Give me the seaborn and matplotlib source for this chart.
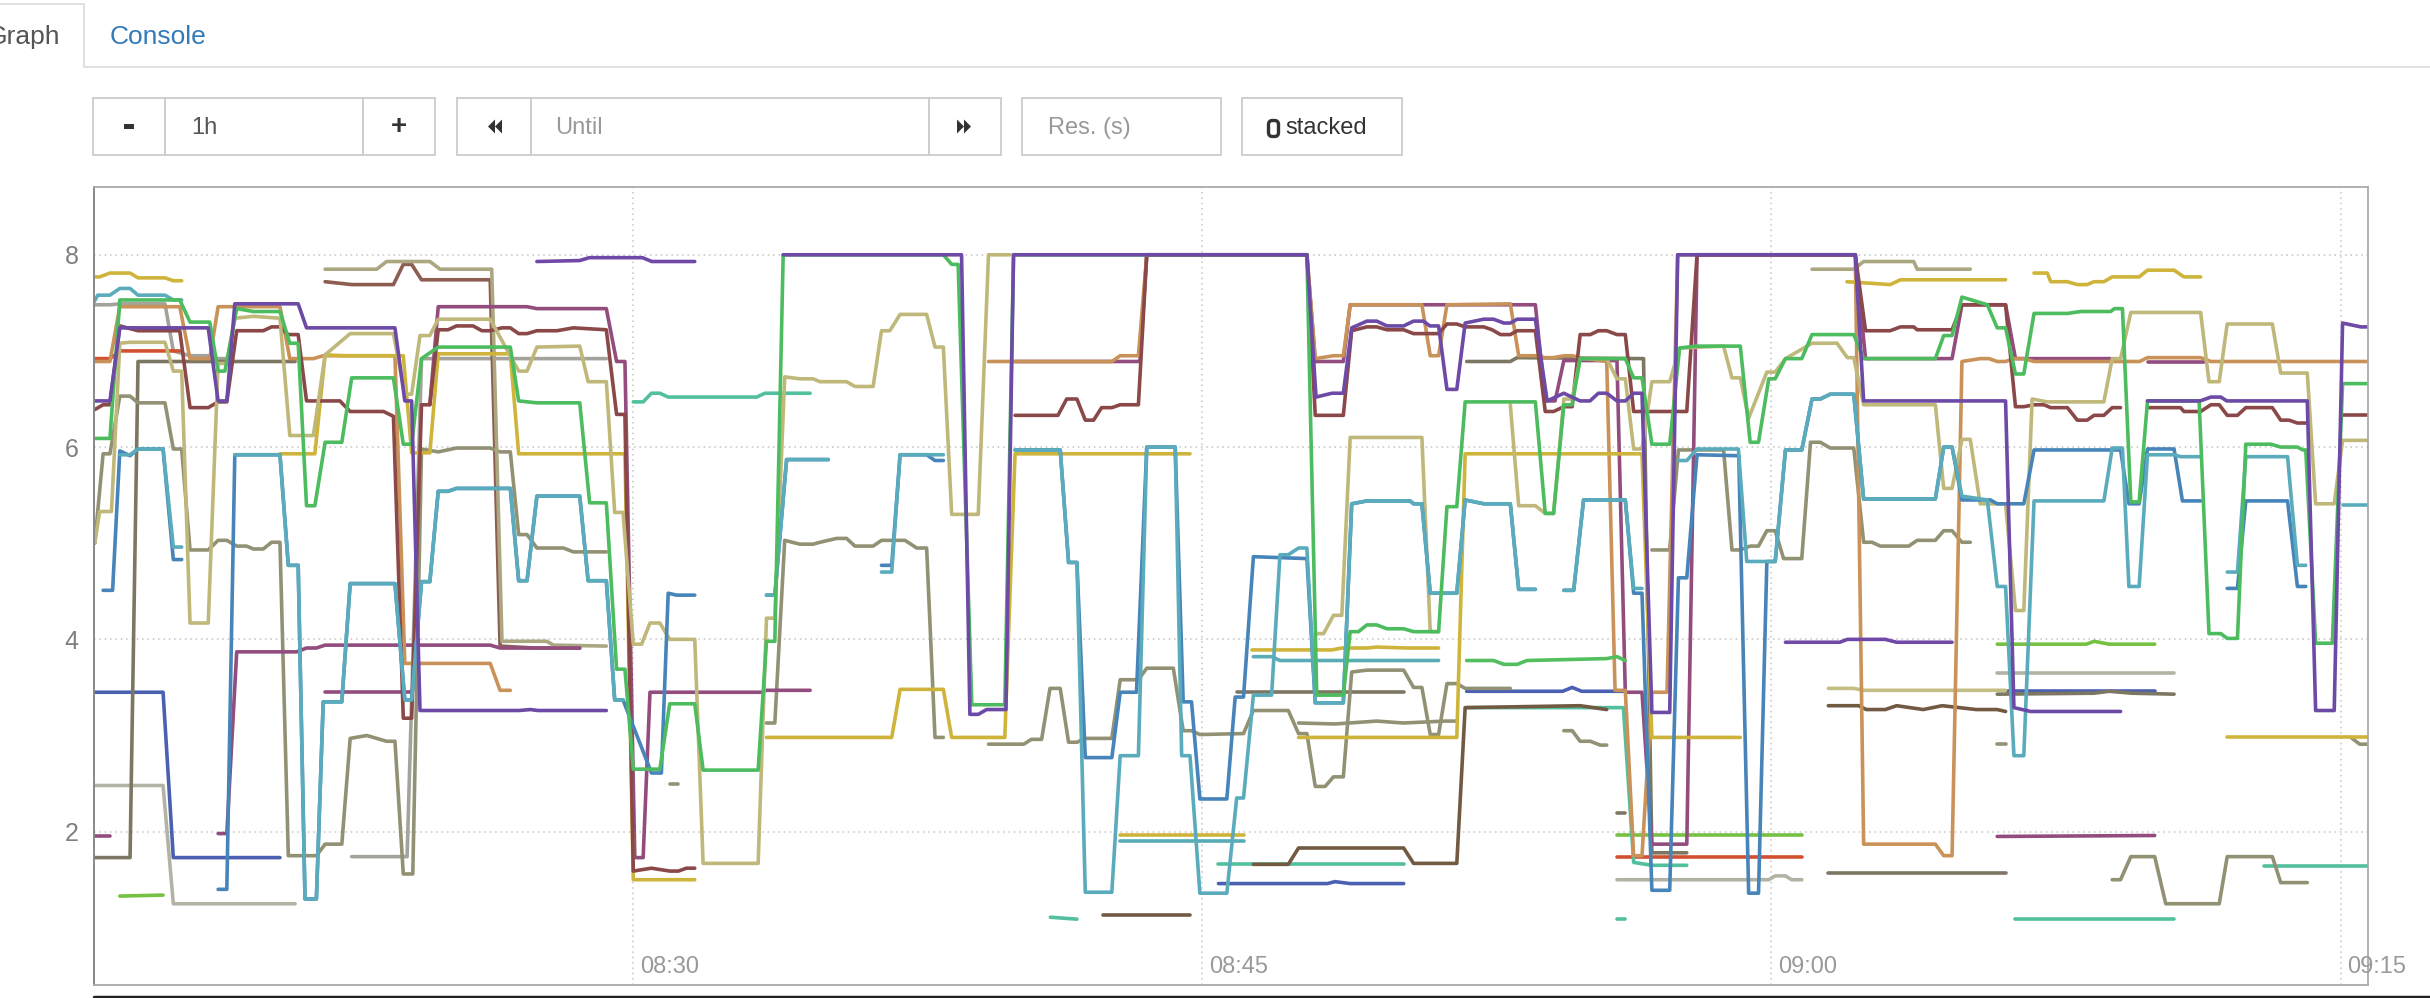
import numpy as np
import pandas as pd
import matplotlib
matplotlib.use("Agg")
import matplotlib.pyplot as plt
import matplotlib.transforms as mtransforms
from matplotlib.patches import Rectangle, Polygon, FancyBboxPatch
import seaborn as sns

# time in minutes after 08:00, None = gap in the series
x_range = [15.8, 75.72]
y_range = [0.405, 8.705]
x_ticks = [30, 45, 60, 75]
x_labels = ["08:30", "08:45", "09:00", "09:15"]
y_ticks = [2, 4, 6, 8]
y_labels = ["2", "4", "6", "8"]

gray_top = [(15.8, 7.48), (16.22, 7.48), (16.48, 7.49), (17.67, 7.49), (17.89, 7.0), (18.33, 6.95), (18.81, 6.95),
            (19.07, 6.92), (19.3, 6.92), None,
            (22.59, 1.74), (24.05, 1.74), (24.43, 6.92), (29.3, 6.92)]

light_gray = [(15.8, 2.48), (17.62, 2.48), (17.89, 1.25), (21.1, 1.25), None,
              (55.93, 1.50), (59.93, 1.50), (60.1, 1.54), (60.37, 1.54), (60.53, 1.50), (60.8, 1.50), None,
              (65.95, 3.65), (70.61, 3.65)]

lime = [(16.48, 1.33), (17.62, 1.34), None,
        (55.93, 1.96), (60.8, 1.96), None,
        (65.95, 3.95), (68.3, 3.95), (68.5, 3.98), (68.9, 3.95), (70.1, 3.95)]

red = [(15.8, 6.92), (16.22, 6.92), (16.5, 7.0), (18.06, 7.0), None,
       (55.93, 1.74), (60.8, 1.74)]

navy = [(15.8, 3.45), (17.62, 3.45), (17.89, 1.73), (20.7, 1.73), None,
        (45.43, 1.46), (48.3, 1.46), (48.5, 1.48), (48.9, 1.46), (50.31, 1.46), None,
        (51.97, 3.46), (54.5, 3.46), (54.75, 3.50), (55.0, 3.46), (56.1, 3.46), None,
        (66.22, 3.46), (70.1, 3.46)]

mint = [(30.01, 6.47), (30.27, 6.47), (30.49, 6.56), (30.71, 6.56), (30.93, 6.52), (33.26, 6.52), (33.48, 6.56),
        (34.67, 6.56), None,
        (41.0, 1.11), (41.7, 1.09), None,
        (45.43, 1.66), (50.31, 1.66), None,
        (51.97, 3.29), (54.96, 3.29), (56.1, 3.29), (56.37, 1.68), (56.85, 1.65), (57.77, 1.65), None,
        (55.93, 1.09), (56.15, 1.09), None,
        (66.43, 1.09), (70.61, 1.09), None,
        (72.98, 1.64), (75.72, 1.64)]

brown = [(42.4, 1.13), (44.68, 1.13), None,
         (46.35, 1.66), (47.27, 1.66), (47.54, 1.83), (50.31, 1.83), (50.57, 1.67), (51.71, 1.67), (51.93, 3.29),
         (54.96, 3.31), (55.66, 3.27), None,
         (61.5, 3.31), (62.3, 3.31), (62.5, 3.27), (63.0, 3.27), (63.3, 3.31), (64.0, 3.27), (64.5, 3.31),
         (65.4, 3.27), (65.95, 3.27), (66.17, 3.25)]

brown_top = [(21.89, 7.72), (22.59, 7.69), (23.69, 7.69), (23.95, 7.90), (24.17, 7.90), (24.43, 7.74), (26.24, 7.74),
             (26.5, 3.93), (27.4, 3.91), (28.6, 3.91)]

olive_dark = [(15.8, 1.73), (16.75, 1.73), (16.96, 6.89), (21.1, 6.89), None,
              (45.91, 3.45), (50.31, 3.45), None,
              (51.97, 6.89), (53.12, 6.89), (53.3, 6.93), (56.63, 6.92), (56.85, 1.78), (57.77, 1.78), None,
              (55.93, 2.19), (56.15, 2.19), None,
              (61.5, 1.57), (66.17, 1.57), None,
              (65.95, 3.43), (68.5, 3.44), (68.9, 3.46), (69.5, 3.44), (70.61, 3.43)]

olive = [(15.82, 5.0), (16.04, 5.93), (16.22, 5.93), (16.48, 6.53), (16.75, 6.53), (16.96, 6.46), (17.67, 6.46),
         (17.89, 5.98), (18.11, 5.98), (18.33, 4.93), (18.81, 4.93), (19.07, 5.03), (19.3, 5.03), (19.56, 4.97),
         (19.82, 4.97), (20.0, 4.94), (20.26, 4.94), (20.48, 5.01), (20.7, 5.01), (20.92, 1.75), (21.66, 1.75),
         (21.89, 1.87), (22.33, 1.87), (22.55, 2.97), (22.99, 3.0), (23.51, 2.94), (23.73, 2.94), (23.95, 1.56),
         (24.2, 1.56), (24.43, 5.98), (24.87, 5.95), (25.35, 5.99), (26.24, 5.99), (26.5, 5.95), (26.77, 5.95),
         (26.99, 5.09), (27.21, 5.09), (27.47, 4.95), (28.17, 4.95), (28.43, 4.91), (29.3, 4.91), None,
         (30.97, 2.5), (31.2, 2.5), None,
         (33.52, 3.13), (33.74, 3.13), (34.0, 5.03), (34.4, 4.99), (34.75, 4.99), (34.93, 5.01), (35.37, 5.05),
         (35.63, 5.05), (35.85, 4.97), (36.33, 4.97), (36.55, 5.03), (37.17, 5.03), (37.48, 4.95), (37.74, 4.95),
         (37.96, 2.98), (38.18, 2.98), None,
         (39.37, 2.91), (40.3, 2.91), (40.5, 2.96), (40.77, 2.96), (40.99, 3.49), (41.26, 3.49), (41.48, 2.93),
         (41.7, 2.93), (41.92, 2.97), (42.62, 2.97), (42.84, 3.58), (43.32, 3.58), (43.54, 3.70), (44.24, 3.70),
         (44.5, 3.05), (44.72, 3.05), (44.94, 3.01), (46.09, 3.02), (46.35, 3.26), (47.27, 3.26), (47.54, 3.02),
         (47.76, 3.02), (47.98, 2.47), (48.24, 2.47), (48.46, 2.57), (48.72, 2.57), (48.94, 3.66), (49.34, 3.68),
         (50.31, 3.68), (50.57, 3.50), (50.79, 3.50), (51.01, 3.01), (51.23, 3.01), (51.45, 3.54), (51.71, 3.54),
         (51.93, 3.49), (53.12, 3.49), None,
         (47.54, 3.13), (48.5, 3.12), (49.6, 3.15), (50.3, 3.13), (51.4, 3.15), (51.71, 3.15), None,
         (54.53, 3.05), (54.75, 3.05), (54.96, 2.94), (55.23, 2.94), (55.49, 2.90), (55.66, 2.90), None,
         (56.85, 4.93), (57.32, 4.93), (57.55, 5.97), (58.74, 5.97), (58.96, 4.93), (59.18, 4.93), (59.44, 4.97),
         (59.66, 4.97), (59.88, 5.13), (60.1, 5.13), (60.32, 4.84), (60.8, 4.84), (61.03, 6.05), (61.29, 6.05),
         (61.55, 5.99), (62.17, 5.99), (62.43, 5.01), (62.65, 5.01), (62.87, 4.97), (63.62, 4.97), (63.84, 5.03),
         (64.32, 5.03), (64.54, 5.13), (64.76, 5.13), (65.02, 5.01), (65.24, 5.01), None,
         (65.95, 2.91), (66.17, 2.91), None,
         (68.98, 1.50), (69.2, 1.50), (69.47, 1.74), (70.1, 1.74), (70.39, 1.25), (71.8, 1.25), (72.01, 1.74),
         (73.2, 1.74), (73.42, 1.47), (74.12, 1.47), None,
         (75.27, 2.98), (75.5, 2.91), (75.72, 2.91)]

khaki_gray = [(21.89, 7.85), (23.25, 7.85), (23.51, 7.93), (24.65, 7.93), (24.92, 7.85), (26.28, 7.85), (26.55, 3.98),
              (27.73, 3.98), (27.91, 3.94), (29.3, 3.93), None,
              (61.07, 7.85), (62.17, 7.85), (62.43, 7.93), (63.75, 7.93), (63.84, 7.85), (65.24, 7.85)]

khaki_low = [(61.5, 3.49), (62.17, 3.49), (62.43, 3.47), (66.17, 3.47)]

plum = [(15.8, 1.95), (16.22, 1.95), None,
        (19.07, 1.98), (19.3, 1.98), (19.56, 3.87), (21.14, 3.87), (21.4, 3.91), (21.66, 3.91), (21.89, 3.94),
        (26.24, 3.94), (26.5, 3.91), (28.6, 3.91), None,
        (21.89, 3.45), (24.17, 3.45), None,
        (24.65, 6.44), (24.87, 7.46), (27.21, 7.46), (27.47, 7.44), (29.3, 7.44), (29.57, 6.89), (29.79, 6.89),
        (30.05, 1.73), (30.27, 1.73), (30.45, 3.45), (33.4, 3.45), (33.52, 3.47), (34.67, 3.47), None,
        (40.07, 6.89), (43.36, 6.89), (43.54, 8.0), (47.76, 8.0), (47.98, 6.89), (48.72, 6.89), (48.9, 7.48),
        (53.78, 7.48), (54.04, 6.48), (54.3, 6.48), (54.53, 6.90), (55.93, 6.90), (56.15, 3.45), (56.59, 3.45),
        (56.85, 1.87), (57.77, 1.87), (58.04, 8.0), (62.21, 8.0), (62.48, 6.92), (64.76, 6.92), (65.02, 7.48),
        (66.17, 7.48), (66.43, 6.92), (68.94, 6.92), None,
        (69.91, 6.89), (71.4, 6.89), None,
        (65.95, 1.95), (70.1, 1.96)]

tan = [(15.8, 6.89), (16.22, 6.89), (16.48, 7.46), (18.06, 7.46), (18.33, 6.92), (18.85, 6.92), (19.07, 7.46),
       (20.7, 7.46), (20.96, 6.92), (21.58, 6.92), (21.84, 6.95), (23.73, 6.95), (23.99, 3.75), (26.24, 3.75),
       (26.5, 3.47), (26.77, 3.47), None,
       (39.37, 6.89), (42.62, 6.89), (42.84, 6.95), (43.32, 6.95), (43.54, 8.0), (47.76, 8.0), (47.98, 6.92),
       (48.46, 6.95), (48.72, 6.95), (48.9, 7.48), (50.79, 7.48), (51.01, 6.95), (51.23, 6.95), (51.45, 7.48),
       (53.12, 7.49), (53.34, 6.95), (53.78, 6.95), (54.04, 6.93), (54.26, 6.93), (54.53, 6.95), (54.75, 6.95),
       (54.96, 6.93), (55.66, 6.89), (55.88, 3.47), (56.15, 3.47), (56.37, 1.75), (56.59, 1.75), (56.85, 3.45),
       (57.25, 3.45), (57.53, 8.0), (62.21, 8.0), (62.43, 1.87), (64.32, 1.87), (64.54, 1.75), (64.76, 1.75),
       (65.02, 6.89), (65.5, 6.92), (65.73, 6.92), (65.95, 6.89), (66.17, 6.89), (66.39, 6.92), (66.65, 6.92),
       (66.92, 6.89), (69.7, 6.89), (69.91, 6.93), (71.31, 6.93), (71.58, 6.89), (75.72, 6.89)]

gold = [(15.8, 7.77), (15.95, 7.77), (16.22, 7.81), (16.75, 7.81), (16.96, 7.76), (17.67, 7.76), (17.89, 7.73),
        (18.11, 7.73), None,
        (20.7, 5.93), (21.62, 5.93), (21.89, 6.96), (22.33, 6.95), (23.95, 6.95), (24.17, 5.94), (24.65, 5.94),
        (24.87, 6.97), (26.77, 6.97), (26.99, 5.93), (29.79, 5.93), (30.01, 1.50), (31.63, 1.50), None,
        (33.52, 2.98), (36.82, 2.98), (37.04, 3.48), (38.18, 3.48), (38.4, 2.98), (39.8, 2.98), (40.07, 5.93),
        (44.68, 5.93), None,
        (42.84, 1.96), (46.09, 1.96), None,
        (46.31, 3.89), (48.42, 3.89), (48.68, 3.91), (49.34, 3.91), (49.6, 3.92), (50.4, 3.91), (51.23, 3.91), None,
        (47.54, 2.98), (51.71, 2.98), (51.93, 5.93), (56.59, 5.93), (56.85, 2.98), (59.18, 2.98), None,
        (61.99, 7.72), (63.13, 7.69), (63.4, 7.74), (66.17, 7.74), None,
        (66.92, 7.81), (67.27, 7.81), (67.36, 7.72), (67.8, 7.72), (68.06, 7.69), (68.32, 7.69), (68.5, 7.72),
        (68.76, 7.72), (68.98, 7.77), (69.69, 7.77), (69.91, 7.84), (70.61, 7.84), (70.87, 7.77), (71.31, 7.77), None,
        (72.01, 2.98), (75.72, 2.98)]

maroon = [(15.82, 6.39), (16.04, 6.44), (16.22, 6.44), (16.48, 7.26), (16.96, 7.21), (18.06, 7.21), (18.33, 6.41),
          (18.81, 6.41), (19.07, 6.47), (19.3, 6.47), (19.56, 7.21), (20.26, 7.21), (20.48, 7.25), (20.7, 7.25),
          (20.92, 7.17), (21.18, 7.17), (21.4, 6.48), (22.28, 6.48), (22.55, 6.37), (23.43, 6.37), (23.69, 6.32),
          (23.95, 3.18), (24.17, 3.18), (24.43, 6.44), (24.65, 6.44), (24.87, 7.22), (25.13, 7.22), (25.35, 7.26),
          (25.79, 7.26), (26.02, 7.21), (26.24, 7.21), (26.55, 7.24), (26.77, 7.24), (26.99, 7.18), (27.21, 7.18),
          (27.47, 7.21), (28.0, 7.21), (28.43, 7.24), (29.3, 7.22), (29.57, 6.34), (29.79, 6.34), (30.01, 1.59),
          (30.49, 1.62), (30.97, 1.59), (31.2, 1.59), (31.41, 1.62), (31.63, 1.62), None,
          (40.07, 6.33), (41.2, 6.33), (41.43, 6.50), (41.7, 6.50), (41.92, 6.28), (42.14, 6.28), (42.35, 6.41),
          (42.62, 6.41), (42.84, 6.44), (43.32, 6.44), (43.54, 8.0), (47.76, 8.0), (47.98, 6.33), (48.72, 6.33),
          (48.94, 7.21), (49.34, 7.25), (49.6, 7.25), (49.87, 7.22), (50.31, 7.22), (50.57, 7.18), (51.23, 7.18),
          (51.45, 7.28), (51.71, 7.28), (51.93, 7.25), (52.42, 7.25), (52.64, 7.22), (52.86, 7.17), (53.12, 7.17),
          (53.3, 7.21), (53.78, 7.21), (54.04, 6.37), (54.26, 6.37), (54.53, 6.42), (54.75, 6.42), (54.96, 7.17),
          (55.23, 7.17), (55.44, 7.21), (55.66, 7.21), (55.93, 7.17), (56.15, 7.17), (56.37, 6.37), (57.77, 6.37),
          (58.04, 8.0), (62.21, 8.0), (62.48, 7.21), (63.13, 7.21), (63.4, 7.25), (63.75, 7.25), (63.84, 7.22),
          (64.76, 7.22), (65.02, 7.48), (66.17, 7.48), (66.43, 6.42), (66.65, 6.42), (66.92, 6.44), (67.18, 6.44),
          (67.36, 6.41), (67.8, 6.41), (68.06, 6.28), (68.32, 6.28), (68.5, 6.33), (68.76, 6.33), (68.98, 6.41),
          (69.2, 6.41), None,
          (69.91, 6.41), (70.78, 6.41), (70.87, 6.37), (71.31, 6.37), (71.58, 6.44), (71.8, 6.44), (72.01, 6.33),
          (72.28, 6.33), (72.5, 6.41), (73.2, 6.41), (73.42, 6.28), (73.64, 6.28), (73.86, 6.25), (74.12, 6.25), None,
          (75.05, 6.33), (75.72, 6.33)]

khaki = [(15.82, 5.0), (15.95, 5.33), (16.26, 5.33), (16.48, 7.08), (16.75, 7.09), (17.67, 7.09), (17.89, 6.79),
         (18.11, 6.79), (18.33, 4.17), (18.81, 4.17), (19.07, 6.87), (19.3, 6.87), (19.51, 7.34), (20.0, 7.36),
         (20.7, 7.34), (20.96, 6.12), (21.58, 6.12), (21.89, 6.96), (22.55, 7.18), (23.69, 7.18), (23.99, 6.55),
         (24.17, 6.55), (24.39, 7.16), (24.65, 7.16), (24.87, 7.33), (26.24, 7.33), (26.99, 6.79), (27.21, 6.79),
         (27.47, 7.04), (28.6, 7.05), (28.82, 6.68), (29.3, 6.68), (29.52, 5.32), (29.74, 5.32), (30.01, 3.95),
         (30.23, 3.95), (30.45, 4.17), (30.71, 4.17), (30.97, 4.0), (31.63, 4.0), (31.85, 1.67), (33.3, 1.67),
         (33.52, 4.22), (33.74, 4.22), (34.0, 6.73), (34.4, 6.71), (34.75, 6.71), (34.93, 6.68), (35.63, 6.68),
         (35.85, 6.63), (36.33, 6.63), (36.55, 7.21), (36.77, 7.21), (37.04, 7.38), (37.74, 7.38), (37.96, 7.04),
         (38.18, 7.04), (38.4, 5.30), (39.1, 5.30), (39.37, 8.0), (39.94, 8.0), None,
         (47.98, 4.06), (48.2, 4.06), (48.46, 4.25), (48.68, 4.25), (48.9, 6.10), (50.79, 6.10), (51.01, 4.08),
         (51.23, 4.08), None,
         (53.12, 6.44), (53.34, 5.39), (53.78, 5.39), (54.04, 5.31), (54.26, 5.31), (54.53, 6.50), (54.75, 6.50),
         (54.96, 6.92), (55.66, 6.92), (55.93, 6.71), (56.15, 6.71), (56.37, 5.98), (56.59, 5.98), (56.85, 6.68),
         (57.32, 6.68), (57.58, 7.03), (58.74, 7.05), (58.96, 6.72), (59.18, 6.72), (59.4, 6.30), (59.88, 6.78),
         (60.1, 6.78), (60.37, 6.92), (61.07, 7.08), (61.73, 7.08), (62.0, 6.93), (62.17, 6.93), (62.43, 6.44),
         (64.32, 6.44), (64.54, 5.57), (64.76, 5.57), (65.02, 6.08), (65.24, 6.08), (65.5, 5.41), (66.17, 5.41),
         (66.43, 4.30), (66.65, 4.30), (66.87, 6.50), (67.27, 6.47), (68.76, 6.47), (68.98, 6.92), (69.2, 6.92),
         (69.47, 7.40), (71.31, 7.40), (71.53, 6.68), (71.8, 6.68), (72.01, 7.28), (73.2, 7.28), (73.42, 6.77),
         (74.12, 6.77), (74.34, 5.41), (74.83, 5.41), (75.05, 6.07), (75.72, 6.07)]

teal_low = [(42.84, 1.90), (46.09, 1.90), None,
            (46.35, 3.82), (46.83, 3.82), (47.05, 3.78), (51.23, 3.78)]

green_low = [(51.97, 3.78), (52.68, 3.78), (52.95, 3.74), (53.3, 3.74), (53.56, 3.78), (55.66, 3.80), (55.93, 3.82),
             (56.15, 3.78)]

blue = [(16.04, 4.51), (16.29, 4.51), (16.48, 5.96), (16.75, 5.91), (16.96, 5.98), (17.62, 5.98), (17.89, 4.83),
        (18.11, 4.83), None,
        (19.07, 1.40), (19.3, 1.40), (19.51, 5.92), (20.7, 5.92), (20.92, 4.77), (21.18, 4.77), (21.36, 1.30),
        (21.66, 1.30), (21.84, 3.35), (22.33, 3.35), (22.55, 4.58), (23.73, 4.58), (23.99, 3.37), (24.17, 3.37),
        (24.43, 4.60), (24.65, 4.60), (24.87, 5.54), (25.13, 5.54), (25.35, 5.57), (26.77, 5.57), (26.99, 4.61),
        (27.21, 4.61), (27.47, 5.49), (28.6, 5.49), (28.82, 4.61), (29.3, 4.61), (29.52, 3.37), (29.74, 3.37),
        (30.49, 2.61), (30.75, 2.61), (30.93, 4.48), (31.15, 4.46), (31.63, 4.46), None,
        (33.52, 4.46), (33.74, 4.46), (34.05, 5.87), (35.15, 5.87), None,
        (36.55, 4.77), (36.82, 4.77), (37.04, 5.92), (37.74, 5.92), (37.96, 5.86), (38.18, 5.86), None,
        (40.07, 5.97), (41.26, 5.97), (41.48, 4.80), (41.7, 4.80), (41.92, 2.77), (42.62, 2.77), (42.84, 3.45),
        (43.27, 3.45), (43.54, 6.0), (44.29, 6.0), (44.5, 3.35), (44.72, 3.35), (44.94, 2.34), (45.65, 2.34),
        (45.87, 3.40), (46.09, 3.40), (46.35, 4.86), (47.76, 4.84), (47.98, 3.34), (48.72, 3.34), (48.94, 5.41),
        (49.34, 5.44), (50.48, 5.44), (50.57, 5.41), (50.79, 5.41), (51.01, 4.48), (51.71, 4.48), (51.93, 5.45),
        (52.42, 5.41), (53.12, 5.41), (53.34, 4.52), (53.78, 4.52), None,
        (54.53, 4.51), (54.79, 4.51), (55.05, 5.45), (56.15, 5.45), (56.37, 4.48), (56.59, 4.48), (56.85, 1.39),
        (57.32, 1.39), (57.55, 4.64), (57.77, 4.64), (58.04, 5.92), (59.14, 5.91), (59.4, 1.36), (59.66, 1.36),
        (59.88, 4.81), (60.1, 4.81), (60.37, 5.97), (60.8, 5.97), (61.07, 6.50), (61.29, 6.50), (61.55, 6.55),
        (62.17, 6.55), (62.43, 5.46), (64.32, 5.46), (64.54, 6.0), (64.76, 6.0), (65.02, 5.45), (65.77, 5.45),
        (65.95, 5.41), (66.65, 5.41), (66.92, 5.97), (69.2, 5.97), (69.42, 5.41), (69.69, 5.41), (69.91, 5.98),
        (70.61, 5.98), (70.83, 5.44), (71.31, 5.44), None,
        (72.01, 4.53), (72.28, 4.53), (72.5, 5.44), (73.6, 5.44), (73.86, 4.55), (74.08, 4.55)]

teal = [(16.48, 5.92), (16.75, 5.92), (16.96, 5.98), (17.62, 5.98), (17.89, 4.96), (18.11, 4.96), None,
        (19.51, 5.92), (20.7, 5.92), (20.92, 4.77), (21.18, 4.77), (21.36, 1.30), (21.66, 1.30), (21.84, 3.35),
        (22.33, 3.35), (22.55, 4.58), (23.73, 4.58), (23.99, 3.37), (24.17, 3.37), (24.43, 4.60), (24.65, 4.60),
        (24.87, 5.54), (25.13, 5.54), (25.35, 5.57), (26.77, 5.57), (26.99, 4.61), (27.21, 4.61), (27.47, 5.49),
        (28.6, 5.49), (28.82, 4.61), (29.3, 4.61), (29.52, 3.37), (29.74, 3.37), None,
        (33.52, 4.46), (33.74, 4.46), (34.05, 5.87), (35.15, 5.87), None,
        (36.55, 4.70), (36.82, 4.70), (37.04, 5.92), (38.18, 5.92), None,
        (40.07, 5.97), (41.26, 5.97), (41.48, 4.80), (41.7, 4.80), (41.92, 1.37), (42.62, 1.37), (42.84, 2.79),
        (43.32, 2.79), (43.54, 6.00), (44.29, 6.00), (44.46, 2.79), (44.68, 2.79), (44.94, 1.36), (45.65, 1.36),
        (45.91, 2.35), (46.09, 2.35), (46.35, 3.42), (46.83, 3.42), (47.05, 4.88), (47.27, 4.88), (47.54, 4.95),
        (47.76, 4.95), (47.98, 3.34), (48.72, 3.34), (48.94, 5.41), (49.34, 5.44), (50.48, 5.44), (50.57, 5.41),
        (50.79, 5.41), (51.01, 4.48), (51.71, 4.48), (51.93, 5.45), (52.42, 5.41), (53.12, 5.41), (53.34, 4.52),
        (53.78, 4.52), None,
        (54.53, 4.51), (54.79, 4.51), (55.05, 5.45), (56.15, 5.45), (56.37, 4.53), (56.59, 4.53), None,
        (57.55, 5.86), (57.77, 5.86), (58.04, 5.98), (59.13, 5.98), (59.35, 4.81), (60.1, 4.81), (60.37, 5.97),
        (60.8, 5.97), (61.07, 6.50), (61.29, 6.50), (61.55, 6.55), (62.17, 6.55), (62.43, 5.46), (64.32, 5.46),
        (64.54, 6.0), (64.76, 6.0), (65.02, 5.49), (65.69, 5.45), (65.95, 4.55), (66.17, 4.55), (66.39, 2.79),
        (66.65, 2.79), (66.92, 5.44), (68.76, 5.44), (68.98, 5.99), (69.25, 5.99), (69.42, 4.55), (69.69, 4.55),
        (69.91, 5.92), (70.61, 5.92), (70.78, 5.90), (71.31, 5.90), None,
        (72.01, 4.70), (72.28, 4.70), (72.5, 5.90), (73.6, 5.90), (73.86, 4.77), (74.08, 4.77), None,
        (75.05, 5.40), (75.72, 5.40)]

teal_top = [(15.8, 7.51), (15.9, 7.58), (16.22, 7.58), (16.48, 7.65), (16.75, 7.65), (16.96, 7.58), (17.67, 7.58),
            (17.89, 7.53), (18.11, 7.53)]

green = [(15.82, 6.09), (16.22, 6.09), (16.48, 7.53), (18.06, 7.53), (18.33, 7.30), (18.85, 7.30), (19.07, 6.79),
         (19.25, 6.79), (19.56, 7.44), (20.0, 7.41), (20.7, 7.41), (20.96, 7.08), (21.18, 7.08), (21.4, 5.39),
         (21.62, 5.39), (21.89, 6.05), (22.33, 6.05), (22.59, 6.72), (23.69, 6.72), (23.95, 6.03), (24.17, 6.03),
         (24.43, 6.92), (24.87, 7.04), (26.77, 7.04), (26.99, 6.48), (27.47, 6.46), (28.6, 6.46), (28.86, 5.42),
         (29.3, 5.42), (29.57, 3.69), (29.79, 3.69), (30.01, 2.65), (30.71, 2.65), (30.97, 3.33), (31.63, 3.33),
         (31.85, 2.64), (33.3, 2.64), (33.52, 3.98), (33.74, 3.98), (33.96, 8.0), (38.18, 8.0), (38.4, 7.9),
         (38.57, 7.9), (38.93, 3.32), (39.8, 3.32), (40.03, 8.0), (47.76, 8.0), (48.02, 3.42), (48.72, 3.42),
         (48.9, 4.08), (49.12, 4.08), (49.34, 4.15), (49.6, 4.15), (49.87, 4.11), (50.31, 4.11), (50.57, 4.08),
         (51.23, 4.08), (51.45, 5.38), (51.71, 5.38), (51.93, 6.47), (53.78, 6.47), (54.04, 5.31), (54.26, 5.31),
         (54.53, 6.44), (54.75, 6.44), (54.96, 6.92), (56.15, 6.92), (56.37, 6.72), (56.59, 6.72), (56.85, 6.03),
         (57.32, 6.03), (57.58, 7.03), (57.99, 7.05), (59.18, 7.05), (59.44, 6.05), (59.66, 6.05), (59.93, 6.71),
         (60.1, 6.71), (60.37, 6.92), (60.8, 6.92), (61.07, 7.17), (62.17, 7.17), (62.43, 6.92), (64.32, 6.92),
         (64.54, 7.16), (64.76, 7.16), (65.02, 7.56), (65.69, 7.48), (65.95, 7.24), (66.17, 7.24), (66.43, 6.76),
         (66.65, 6.76), (66.92, 7.39), (67.8, 7.39), (68.15, 7.41), (68.94, 7.41), (69.04, 7.44), (69.25, 7.44),
         (69.47, 5.43), (69.69, 5.43), (69.91, 6.48), (71.27, 6.48), (71.53, 4.06), (71.84, 4.06), (72.01, 4.01),
         (72.28, 4.01), (72.5, 6.03), (73.16, 6.03), (73.42, 6.0), (73.86, 6.0), (74.0, 5.97), (74.08, 5.97),
         (74.34, 3.96), (74.78, 3.96), (75.05, 6.66), (75.72, 6.66)]

purple_top = [(27.47, 7.93), (28.6, 7.94), (28.85, 7.97), (30.25, 7.97), (30.5, 7.93), (31.63, 7.93)]

purple_four = [(60.37, 3.97), (61.8, 3.97), (62.0, 4.0), (63.0, 4.0), (63.3, 3.97), (64.76, 3.97)]

purple = [(15.8, 6.48), (16.22, 6.48), (16.48, 7.24), (18.81, 7.24), (19.07, 6.48), (19.3, 6.48), (19.51, 7.49),
          (21.18, 7.49), (21.4, 7.24), (23.73, 7.24), (23.99, 6.48), (24.17, 6.48), (24.39, 3.26), (27.0, 3.26),
          (27.3, 3.27), (27.5, 3.26), (29.3, 3.26), None,
          (33.96, 8.0), (38.66, 8.0), (38.88, 3.22), (39.1, 3.22), (39.32, 3.27), (39.83, 3.27), (40.03, 8.0),
          (47.76, 8.0), (48.0, 6.52), (48.42, 6.56), (48.72, 6.56), (48.94, 7.24), (49.34, 7.31), (49.6, 7.31),
          (49.87, 7.26), (50.31, 7.26), (50.57, 7.31), (50.83, 7.31), (51.0, 7.26), (51.23, 7.26), (51.45, 6.60),
          (51.71, 6.60), (51.93, 7.29), (52.42, 7.33), (52.68, 7.33), (52.95, 7.29), (53.12, 7.29), (53.3, 7.33),
          (53.78, 7.33), (54.09, 6.48), (54.53, 6.56), (54.96, 6.48), (55.22, 6.48), (55.44, 6.56), (55.66, 6.56),
          (55.93, 6.48), (56.15, 6.48), (56.37, 6.56), (56.59, 6.56), (56.85, 3.24), (57.32, 3.24), (57.53, 8.0),
          (62.21, 8.0), (62.43, 6.48), (66.17, 6.48), (66.39, 3.29), (66.83, 3.25), (69.2, 3.25), None,
          (69.91, 6.48), (71.3, 6.48), (71.58, 6.52), (71.84, 6.52), (72.0, 6.48), (74.12, 6.48), (74.34, 3.26),
          (74.83, 3.26), (75.05, 7.29), (75.53, 7.25), (75.72, 7.25)]

series = {
    "gray_top": gray_top, "light_gray": light_gray, "lime": lime, "red": red, "navy": navy, "mint": mint,
    "brown": brown, "brown_top": brown_top, "olive_dark": olive_dark, "olive": olive, "khaki_gray": khaki_gray,
    "khaki_low": khaki_low, "plum": plum, "tan": tan, "gold": gold, "maroon": maroon, "khaki": khaki,
    "teal_low": teal_low, "green_low": green_low, "blue": blue, "teal": teal, "teal_top": teal_top,
    "green": green, "purple_top": purple_top, "purple_four": purple_four, "purple": purple,
}

colors = {
    "gray_top": "#a3a39b", "light_gray": "#b3b3a5", "lime": "#76c043", "red": "#d2502f", "navy": "#4c60b2",
    "mint": "#52c09e", "brown": "#725a42", "brown_top": "#8c5d50", "olive_dark": "#7c7662", "olive": "#939174",
    "khaki_gray": "#aaa781", "khaki_low": "#c4bd84", "plum": "#924c7e", "tan": "#c99258", "gold": "#cfb43b",
    "maroon": "#8b4848", "khaki": "#bfb87a", "teal_low": "#58acb5", "green_low": "#52be5e", "blue": "#4684b9",
    "teal": "#5aabbb", "teal_top": "#5aabbb", "green": "#4cbc5f", "purple_top": "#7049a8",
    "purple_four": "#7049a8", "purple": "#6c4aa6",
}

rows = []
for name, pts in series.items():
    seg = 0
    for p in pts:
        if p is None:
            seg += 1
            continue
        rows.append({"series": name, "seg": f"{name}_{seg}", "t": p[0], "v": p[1]})
df = pd.DataFrame(rows)

sns.set_style("white")
plt.rcParams["font.family"] = ["Liberation Sans", "DejaVu Sans"]

fig = plt.figure(figsize=(24.3, 9.98), dpi=100)
ax = fig.add_axes([94 / 2430, 13 / 998, 2274 / 2430, 798 / 998])

sns.lineplot(data=df, x="t", y="v", hue="series", units="seg", estimator=None, sort=False,
             hue_order=list(series.keys()), palette=colors, legend=False, linewidth=2.6, ax=ax)

ax.set_xlim(*x_range)
ax.set_ylim(*y_range)
ax.set_xlabel("")
ax.set_ylabel("")

ax.set_xticks(x_ticks)
ax.set_xticklabels([])
ax.tick_params(axis="x", length=0)
ax.set_yticks(y_ticks)
ax.set_yticklabels(y_labels, fontsize=18, color="#808080")
ax.set_yticks(y_range, minor=True)
ax.tick_params(axis="y", which="both", length=7, width=1.3, color="#888888", pad=4, direction="out")
ax.grid(True, which="major", linestyle=(0, (1, 2.5)), color="#c4c4c4", linewidth=1.1)

for side in ["top", "right", "bottom"]:
    ax.spines[side].set_color("#aaaaaa")
    ax.spines[side].set_linewidth(1.3)
ax.spines["left"].set_color("#888888")
ax.spines["left"].set_linewidth(1.4)

trans = mtransforms.blended_transform_factory(ax.transData, ax.transAxes)
for xt, lab in zip(x_ticks, x_labels):
    ax.text(xt + 0.18, 0.015, lab, transform=trans, ha="left", va="baseline", fontsize=17, color="#999999")

# page furniture above the graph, in pixel coordinates
ui = fig.add_axes([0, 0, 1, 1], zorder=5)
ui.set_xlim(0, 2430)
ui.set_ylim(998, 0)
ui.axis("off")
ui.patch.set_alpha(0)

ui.plot([0, 84, 84], [4, 4, 67], color="#dddddd", lw=1.3)
ui.plot([84, 2430], [67, 67], color="#dddddd", lw=1.3)
ui.text(60, 37, "Graph", ha="right", va="center", fontsize=19, color="#555555")
ui.text(110, 37, "Console", ha="left", va="center", fontsize=19, color="#337ab7")

btn_top, btn_bot = 98, 155
for x0, x1 in [(93, 165), (165, 363), (363, 435), (457, 531), (531, 929), (929, 1001), (1022, 1221), (1242, 1402)]:
    ui.add_patch(Rectangle((x0, btn_top), x1 - x0, btn_bot - btn_top, facecolor="white",
                           edgecolor="#cccccc", lw=1.3))
mid = (btn_top + btn_bot) / 2
ui.add_patch(Rectangle((124, mid - 2.5), 10, 5, facecolor="#333333", edgecolor="none"))
ui.text(399, mid, "+", ha="center", va="center", fontsize=20, fontweight="bold", color="#333333")
ui.text(191, mid + 1, "1h", ha="left", va="center", fontsize=17, color="#555555")
ui.text(555, mid + 1, "Until", ha="left", va="center", fontsize=17, color="#999999")
ui.text(1048, mid + 1, "Res. (s)", ha="left", va="center", fontsize=17, color="#999999")
ui.text(1285, mid + 1, "stacked", ha="left", va="center", fontsize=17, color="#333333")
ui.add_patch(FancyBboxPatch((1268.5, 120.5), 10, 16, boxstyle="round,pad=0,rounding_size=4",
                            facecolor="none", edgecolor="#333333", lw=2.4))
for cx, d in [(495, -1), (964, 1)]:
    for off in (-7, 0):
        if d < 0:
            tri = [(cx + off, mid), (cx + off + 7, mid - 7), (cx + off + 7, mid + 7)]
        else:
            tri = [(cx - off, mid), (cx - off - 7, mid - 7), (cx - off - 7, mid + 7)]
        ui.add_patch(Polygon(tri, closed=True, facecolor="#333333", edgecolor="none"))

ui.plot([94, 2430], [997, 997], color="#222222", lw=2.5)

fig.savefig("out.png", dpi=100)
